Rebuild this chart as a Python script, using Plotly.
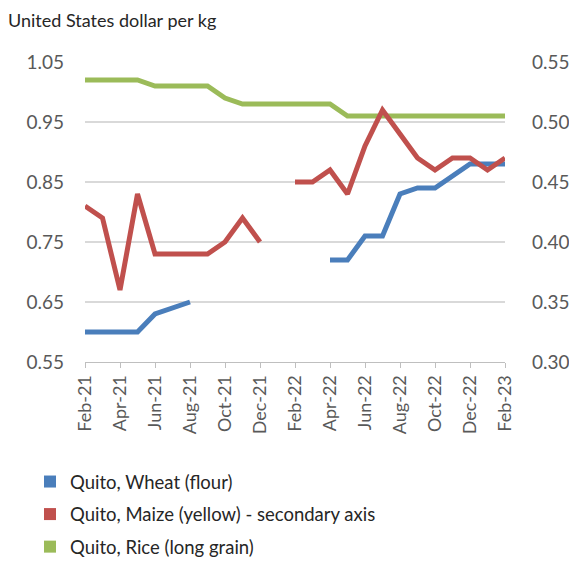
import plotly.graph_objects as go

months = ["Feb-21", "Mar-21", "Apr-21", "May-21", "Jun-21", "Jul-21", "Aug-21", "Sep-21",
          "Oct-21", "Nov-21", "Dec-21", "Jan-22", "Feb-22", "Mar-22", "Apr-22", "May-22",
          "Jun-22", "Jul-22", "Aug-22", "Sep-22", "Oct-22", "Nov-22", "Dec-22", "Jan-23", "Feb-23"]

wheat = [0.60, 0.60, 0.60, 0.60, 0.63, 0.64, 0.65, None, None, None, None, None, None, None,
         0.72, 0.72, 0.76, 0.76, 0.83, 0.84, 0.84, 0.86, 0.88, 0.88, 0.88]
maize = [0.43, 0.42, 0.36, 0.44, 0.39, 0.39, 0.39, 0.39, 0.40, 0.42, 0.40, None, 0.45, 0.45,
         0.46, 0.44, 0.48, 0.51, 0.49, 0.47, 0.46, 0.47, 0.47, 0.46, 0.47]
rice = [1.02, 1.02, 1.02, 1.02, 1.01, 1.01, 1.01, 1.01, 0.99, 0.98, 0.98, 0.98, 0.98, 0.98,
        0.98, 0.96, 0.96, 0.96, 0.96, 0.96, 0.96, 0.96, 0.96, 0.96, 0.96]

left_ticks = [0.55, 0.65, 0.75, 0.85, 0.95, 1.05]
right_ticks = [0.30, 0.35, 0.40, 0.45, 0.50, 0.55]

names = ["Quito, Wheat (flour)", "Quito, Maize (yellow) - secondary axis", "Quito, Rice (long grain)"]
colors = ["#4A7EBB", "#C0504D", "#9BBB59"]

FONT = "Lato"
GREY = "#595959"
W, H = 577, 561

fig = go.Figure()
fig.add_trace(go.Scatter(x=months, y=wheat, mode="lines", line=dict(color=colors[0], width=5),
                         connectgaps=False, showlegend=False))
fig.add_trace(go.Scatter(x=months, y=rice, mode="lines", line=dict(color=colors[2], width=5),
                         connectgaps=False, showlegend=False))
fig.add_trace(go.Scatter(x=months, y=maize, mode="lines", line=dict(color=colors[1], width=5),
                         connectgaps=False, showlegend=False, yaxis="y2"))

# legend entries drawn as squares, like the original
for i, (name, c) in enumerate(zip(names, colors)):
    fig.add_trace(go.Scatter(x=[None], y=[None], mode="markers", name=name, legendgroup=str(i),
                             marker=dict(symbol="square", size=12, color=c)))

# the page body adds an 8px offset, so positions below are shifted back by 8px
fig.update_layout(
    width=W, height=H,
    margin=dict(l=77, r=80, t=54, b=207, autoexpand=False),
    paper_bgcolor="white", plot_bgcolor="white",
    font=dict(family=FONT, color=GREY),
    title=dict(text="United States dollar per kg", x=0, xanchor="left", xref="container",
               y=1 - 13 / H, yanchor="middle", yref="container",
               font=dict(family=FONT, size=18, color="#262626")),
    xaxis=dict(type="category", range=[0, 24], tickvals=months[::2], ticktext=months[::2],
               tickangle=-90, tickfont=dict(size=18, color=GREY), ticks="outside", ticklen=5,
               tickcolor="#BFBFBF", showline=True, linecolor="#BFBFBF", linewidth=1,
               showgrid=False, zeroline=False),
    yaxis=dict(range=[0.55, 1.05], tickvals=left_ticks, tickformat=".2f",
               tickfont=dict(size=19, color=GREY), ticklabelstandoff=20,
               showgrid=True, gridcolor="#D9D9D9", gridwidth=1.5, zeroline=False, showline=False),
    yaxis2=dict(range=[0.30, 0.55], tickvals=right_ticks, tickformat=".2f", overlaying="y",
                side="right", tickfont=dict(size=19, color=GREY), ticklabelstandoff=26,
                showgrid=False, zeroline=False, showline=False),
    legend=dict(orientation="v", x=22 / W, xref="container", xanchor="left",
                y=1 - 455 / H, yref="container", yanchor="top",
                font=dict(family=FONT, size=18.5, color="#262626"), tracegroupgap=5.5,
                itemsizing="constant"),
)

fig.write_html("out.html")
